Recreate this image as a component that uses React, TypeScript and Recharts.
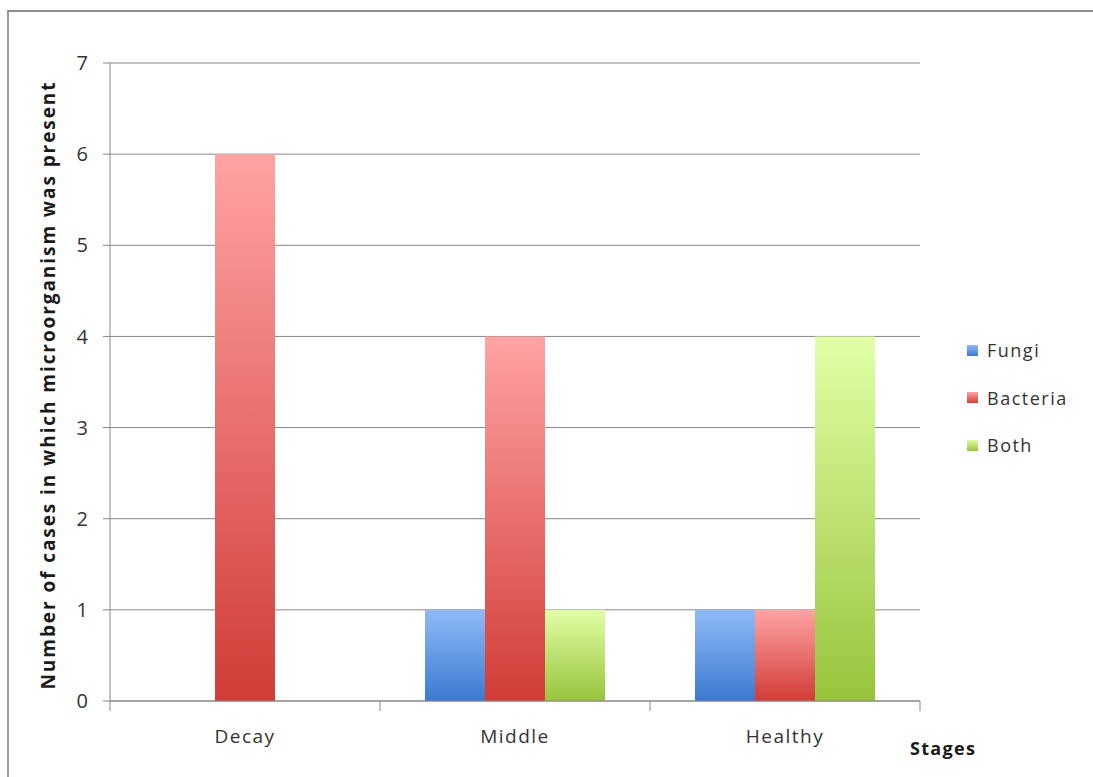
import React from 'react';
import { BarChart, Bar, XAxis, YAxis, CartesianGrid } from 'recharts';

// Stages of the sample and the number of cases per organism group
const stages = ['Decay', 'Middle', 'Healthy'];
const fungiCases = [0, 1, 1];
const bacteriaCases = [6, 4, 1];
const bothCases = [0, 1, 4];
const yTicks = [0, 1, 2, 3, 4, 5, 6, 7];

const seriesNames = ['Fungi', 'Bacteria', 'Both'];
const seriesKeys = ['fungi', 'bacteria', 'both'];
const gradients: Record<string, [string, string]> = {
  fungi: ['#8fbaf6', '#3b7ad0'],
  bacteria: ['#ffa3a3', '#d13c37'],
  both: ['#e2ffa6', '#98c43c'],
};

const data = stages.map((stage, i) => ({
  stage,
  fungi: fungiCases[i],
  bacteria: bacteriaCases[i],
  both: bothCases[i],
}));

const FONT = '"Open Sans", "DejaVu Sans", sans-serif';
const TEXT = '#333333';
const LINE = '#878787';

// Category label plus tick marks on the category boundaries
const StageTick = (props: any) => {
  const { x, y, payload, width } = props;
  const half = payload && payload.offset != null ? payload.offset : width / stages.length / 2;
  const isLast = payload.index === stages.length - 1;
  return (
    <g>
      <line x1={x - half} x2={x - half} y1={y} y2={y + 10} stroke={LINE} strokeWidth={1} />
      {isLast && <line x1={x + half} x2={x + half} y1={y} y2={y + 10} stroke={LINE} strokeWidth={1} />}
      <text
        x={x}
        y={y + 42}
        textAnchor="middle"
        fill={TEXT}
        style={{ fontFamily: FONT, fontSize: 19, letterSpacing: 1.5 }}
      >
        {payload.value}
      </text>
    </g>
  );
};

const YTitle = (props: any) => {
  const vb = props.viewBox || { x: 0, y: 0, width: 0, height: 0 };
  const cx = vb.x + 8;
  const cy = vb.y + vb.height / 2 + 4;
  return (
    <text
      x={cx}
      y={cy}
      transform={`rotate(-90 ${cx} ${cy})`}
      textAnchor="middle"
      dominantBaseline="central"
      textLength={607}
      lengthAdjust="spacing"
      fill="#1a1a1a"
      style={{ fontFamily: FONT, fontSize: 19, fontWeight: 700 }}
    >
      Number of cases  in which microorganism was present
    </text>
  );
};

const XTitle = (props: any) => {
  const vb = props.viewBox || { x: 0, y: 0, width: 0, height: 0 };
  return (
    <text
      x={vb.x + vb.width - 10}
      y={vb.y + 54}
      textAnchor="start"
      fill="#1a1a1a"
      style={{ fontFamily: FONT, fontSize: 18, fontWeight: 700, letterSpacing: 1.3 }}
    >
      Stages
    </text>
  );
};

export default function App() {
  return (
    <div
      style={{
        position: 'fixed',
        left: 0,
        top: 0,
        width: 1093,
        height: 777,
        overflow: 'hidden',
        background: '#ffffff',
      }}
    >
      <div
        style={{
          position: 'absolute',
          left: 7,
          top: 10,
          width: 1200,
          height: 900,
          borderTop: '2px solid #8e8e8e',
          borderLeft: '2px solid #9a9a9a',
        }}
      />
      <div style={{ position: 'absolute', left: 0, top: 0 }}>
        <BarChart
          width={1093}
          height={777}
          data={data}
          margin={{ top: 63, right: 173, bottom: 16, left: 40 }}
          barCategoryGap="16.667%"
          barGap={0}
        >
          <defs>
            {seriesKeys.map((k) => (
              <linearGradient key={k} id={`grad-${k}`} x1="0" y1="0" x2="0" y2="1">
                <stop offset="0%" stopColor={gradients[k][0]} />
                <stop offset="100%" stopColor={gradients[k][1]} />
              </linearGradient>
            ))}
          </defs>
          <CartesianGrid vertical={false} stroke={LINE} strokeWidth={1} />
          <XAxis
            dataKey="stage"
            height={60}
            axisLine={{ stroke: LINE }}
            tickLine={false}
            tickSize={0}
            tickMargin={0}
            tick={<StageTick />}
            interval={0}
            label={<XTitle />}
          />
          <YAxis
            width={70}
            domain={[0, 7]}
            ticks={yTicks}
            interval={0}
            axisLine={{ stroke: LINE }}
            tickLine={{ stroke: LINE }}
            tickSize={7}
            tickMargin={15}
            tick={{ fill: TEXT, fontFamily: FONT, fontSize: 20 }}
            label={<YTitle />}
          />
          {seriesKeys.map((k, i) => (
            <Bar
              key={k}
              dataKey={k}
              name={seriesNames[i]}
              fill={`url(#grad-${k})`}
              isAnimationActive={false}
            />
          ))}
        </BarChart>
      </div>
      <div style={{ position: 'absolute', left: 967, top: 338 }}>
        {seriesKeys.map((k, i) => (
          <div
            key={k}
            style={{ display: 'flex', alignItems: 'center', height: 24, marginBottom: i < 2 ? 23.5 : 0 }}
          >
            <div
              style={{
                width: 11,
                height: 11,
                background: `linear-gradient(${gradients[k][0]}, ${gradients[k][1]})`,
                marginRight: 9,
              }}
            />
            <span style={{ fontFamily: FONT, fontSize: 18, color: TEXT, letterSpacing: 1.5 }}>
              {seriesNames[i]}
            </span>
          </div>
        ))}
      </div>
    </div>
  );
}
